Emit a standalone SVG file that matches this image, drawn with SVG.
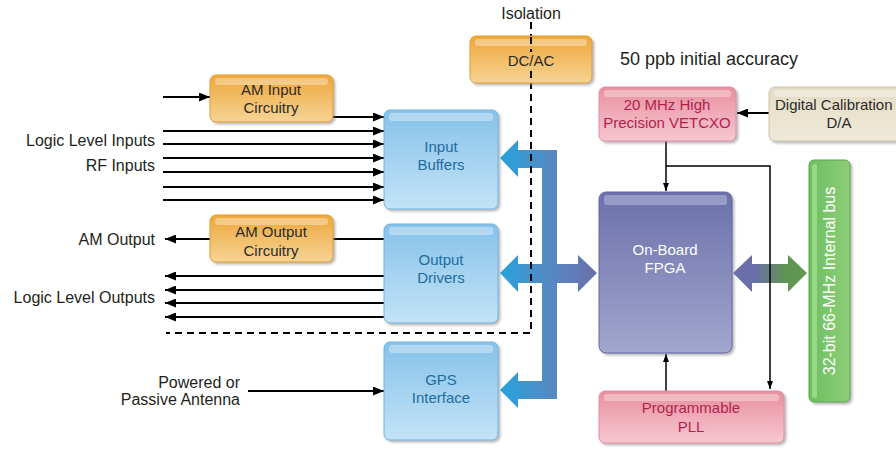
<svg xmlns="http://www.w3.org/2000/svg" width="896" height="449" viewBox="0 0 896 449">
<style>
.lbl{font-family:"Liberation Sans",Arial,sans-serif;font-size:16px;fill:#231f20}
.bt{font-family:"Liberation Sans",Arial,sans-serif;font-size:15px;text-anchor:middle}
.blue{fill:#1d6c9e}.dark{fill:#2b2b2b}.red{fill:#b31e4f}.white{fill:#ffffff}
.ln{stroke:#000;stroke-width:2;fill:none}
.thin{stroke:#000;stroke-width:1.5;fill:none}
.hl{fill:#ffffff;fill-opacity:0.35}
.dash{stroke:#000;stroke-width:2;fill:none;stroke-dasharray:7,5}
</style>
<defs>
<linearGradient id="gBlue" x1="0" y1="0" x2="0" y2="1"><stop offset="0" stop-color="#86c2ea"/><stop offset="1" stop-color="#c3e3f6"/></linearGradient>
<linearGradient id="gOrange" x1="0" y1="0" x2="0" y2="1"><stop offset="0" stop-color="#eea73a"/><stop offset="1" stop-color="#f6d495"/></linearGradient>
<linearGradient id="gPink" x1="0" y1="0" x2="0" y2="1"><stop offset="0" stop-color="#e8909f"/><stop offset="1" stop-color="#f7c7d2"/></linearGradient>
<linearGradient id="gBeige" x1="0" y1="0" x2="0" y2="1"><stop offset="0" stop-color="#e4dcc4"/><stop offset="1" stop-color="#efe9d9"/></linearGradient>
<linearGradient id="gPurple" x1="0" y1="0" x2="0" y2="1"><stop offset="0" stop-color="#6b70ab"/><stop offset="1" stop-color="#a3a6cd"/></linearGradient>
<linearGradient id="gGreen" x1="0" y1="0" x2="1" y2="0"><stop offset="0" stop-color="#6cbf60"/><stop offset="1" stop-color="#8ecd78"/></linearGradient>
<linearGradient id="gBus" gradientUnits="userSpaceOnUse" x1="500" y1="0" x2="557" y2="0"><stop offset="0" stop-color="#27a2dc"/><stop offset="1" stop-color="#5b86c1"/></linearGradient>
<linearGradient id="gMid" gradientUnits="userSpaceOnUse" x1="500" y1="0" x2="597" y2="0"><stop offset="0" stop-color="#27a2dc"/><stop offset="0.5" stop-color="#5589c2"/><stop offset="1" stop-color="#6a6fab"/></linearGradient>
<linearGradient id="gRight" gradientUnits="userSpaceOnUse" x1="733" y1="0" x2="807" y2="0"><stop offset="0" stop-color="#6a6fab"/><stop offset="0.3" stop-color="#6a6fab"/><stop offset="0.7" stop-color="#5f9452"/><stop offset="1" stop-color="#5f9a50"/></linearGradient>
<filter id="sh" x="-10%" y="-10%" width="130%" height="130%"><feDropShadow dx="2" dy="2" stdDeviation="1" flood-color="#777" flood-opacity="0.5"/></filter>
<marker id="ah" markerUnits="userSpaceOnUse" markerWidth="11" markerHeight="9" refX="11" refY="4.5" orient="auto"><path d="M0,0 L11,4.5 L0,9 z" fill="#000"/></marker>
<marker id="as" markerUnits="userSpaceOnUse" markerWidth="8" markerHeight="6" refX="8" refY="3" orient="auto"><path d="M0,0 L8,3 L0,6 z" fill="#000"/></marker>
</defs>
<rect width="896" height="449" fill="#fff"/>

<g id="connectors">
<path d="M500,158 L518,140 L518,150 L557,150 L557,399 L518,399 L518,408 L500,390 L518,372 L518,381 L542,381 L542,168 L518,168 L518,177 Z" fill="url(#gBus)"/>
<path d="M500,273 L518,255 L518,264 L578,264 L578,255 L597,273 L578,292 L578,283 L518,283 L518,292 Z" fill="url(#gMid)"/>
<path d="M733,273 L752,255 L752,264 L788,264 L788,255 L807,273 L788,292 L788,283 L752,283 L752,292 Z" fill="url(#gRight)"/>
<path class="dash" d="M531,22 V333 H166"/>
<line class="ln" x1="163" y1="97" x2="210" y2="97" marker-end="url(#ah)"/>
<line class="ln" x1="333" y1="117" x2="384" y2="117" marker-end="url(#ah)"/>
<line class="ln" x1="163" y1="131" x2="384" y2="131" marker-end="url(#ah)"/>
<line class="ln" x1="163" y1="144" x2="384" y2="144" marker-end="url(#ah)"/>
<line class="ln" x1="163" y1="158" x2="384" y2="158" marker-end="url(#ah)"/>
<line class="ln" x1="163" y1="172" x2="384" y2="172" marker-end="url(#ah)"/>
<line class="ln" x1="163" y1="187" x2="384" y2="187" marker-end="url(#ah)"/>
<line class="ln" x1="163" y1="200" x2="384" y2="200" marker-end="url(#ah)"/>
<line class="ln" x1="384" y1="239" x2="333" y2="239"/>
<line class="ln" x1="210" y1="239" x2="165" y2="239" marker-end="url(#ah)"/>
<line class="ln" x1="384" y1="276" x2="165" y2="276" marker-end="url(#ah)"/>
<line class="ln" x1="384" y1="290" x2="165" y2="290" marker-end="url(#ah)"/>
<line class="ln" x1="384" y1="303" x2="165" y2="303" marker-end="url(#ah)"/>
<line class="ln" x1="384" y1="317" x2="165" y2="317" marker-end="url(#ah)"/>
<line class="ln" x1="248" y1="391" x2="384" y2="391" marker-end="url(#ah)"/>
<line class="ln" x1="769" y1="113" x2="737" y2="113" marker-end="url(#ah)"/>
<line class="thin" x1="666" y1="141" x2="666" y2="191" marker-end="url(#as)"/>
<path class="thin" d="M666,166 H770 V389" marker-end="url(#as)"/>
<line class="thin" x1="666" y1="391" x2="666" y2="354" marker-end="url(#as)"/>
</g>

<g id="isolation">
<text class="lbl" x="531" y="19" text-anchor="middle">Isolation</text>
</g>
<g id="accuracy">
<text class="lbl" x="620" y="65" style="font-size:18px">50 ppb initial accuracy</text>
</g>

<g id="labels-left">
<text class="lbl" x="155" y="146" text-anchor="end">Logic Level Inputs</text>
<text class="lbl" x="155" y="171" text-anchor="end">RF Inputs</text>
<text class="lbl" x="155" y="245" text-anchor="end">AM Output</text>
<text class="lbl" x="155" y="303" text-anchor="end">Logic Level Outputs</text>
<text class="lbl" x="240" y="388" text-anchor="end">Powered or</text>
<text class="lbl" x="240" y="405" text-anchor="end">Passive Antenna</text>
</g>

<g id="am-input">
<rect x="210" y="75" width="123" height="47" rx="6" fill="url(#gOrange)" stroke="#e29c2a" filter="url(#sh)"/>
<rect x="215" y="78" width="113" height="7" rx="3" class="hl"/>
<text class="bt dark" x="271" y="95">AM Input</text>
<text class="bt dark" x="271" y="113">Circuitry</text>
</g>

<g id="am-output">
<rect x="210" y="215" width="123" height="47" rx="6" fill="url(#gOrange)" stroke="#e29c2a" filter="url(#sh)"/>
<rect x="215" y="218" width="113" height="7" rx="3" class="hl"/>
<text class="bt dark" x="271" y="237">AM Output</text>
<text class="bt dark" x="271" y="256">Circuitry</text>
</g>

<g id="input-buffers">
<rect x="384" y="110" width="114" height="99" rx="6" fill="url(#gBlue)" stroke="#72b2de" filter="url(#sh)"/>
<rect x="389" y="113" width="104" height="8" rx="3" class="hl"/>
<text class="bt blue" x="441" y="152">Input</text>
<text class="bt blue" x="441" y="170">Buffers</text>
</g>

<g id="output-drivers">
<rect x="384" y="224" width="114" height="99" rx="6" fill="url(#gBlue)" stroke="#72b2de" filter="url(#sh)"/>
<rect x="389" y="227" width="104" height="8" rx="3" class="hl"/>
<text class="bt blue" x="441" y="265">Output</text>
<text class="bt blue" x="441" y="283">Drivers</text>
</g>

<g id="gps-interface">
<rect x="384" y="342" width="114" height="98" rx="6" fill="url(#gBlue)" stroke="#72b2de" filter="url(#sh)"/>
<rect x="389" y="345" width="104" height="8" rx="3" class="hl"/>
<text class="bt blue" x="441" y="385">GPS</text>
<text class="bt blue" x="441" y="403">Interface</text>
</g>

<g id="dc-ac">
<rect x="470" y="36" width="122" height="47" rx="6" fill="url(#gOrange)" stroke="#e29c2a" filter="url(#sh)"/>
<rect x="475" y="39" width="112" height="7" rx="3" class="hl"/>
<text class="bt dark" x="531" y="66">DC/AC</text>
<path class="dash" d="M531,37 V52 M531,71 V83" style="stroke-dasharray:7,5"/>
</g>

<g id="vetcxo">
<rect x="599" y="87" width="137" height="54" rx="6" fill="url(#gPink)" stroke="#de8ea2" filter="url(#sh)"/>
<rect x="604" y="90" width="127" height="7" rx="3" class="hl"/>
<text class="bt red" x="667" y="110">20 MHz High</text>
<text class="bt red" x="667" y="128">Precision VETCXO</text>
</g>

<g id="digital-cal">
<rect x="769" y="87" width="140" height="54" rx="6" fill="url(#gBeige)" stroke="#cfc6ab" filter="url(#sh)"/>
<rect x="774" y="90" width="130" height="7" rx="3" class="hl"/>
<text class="bt dark" x="775" y="110" style="text-anchor:start">Digital Calibration</text>
<text class="bt dark" x="839" y="128">D/A</text>
</g>

<g id="fpga">
<rect x="599" y="192" width="133" height="161" rx="7" fill="url(#gPurple)" stroke="#6367a5" filter="url(#sh)"/>
<rect x="604" y="195" width="123" height="10" rx="3" fill="#a9acd3" fill-opacity="0.7"/>
<text class="bt white" x="665" y="255">On-Board</text>
<text class="bt white" x="665" y="273">FPGA</text>
</g>

<g id="pll">
<rect x="599" y="391" width="185" height="52" rx="6" fill="url(#gPink)" stroke="#de8ea2" filter="url(#sh)"/>
<rect x="604" y="394" width="175" height="7" rx="3" class="hl"/>
<text class="bt red" x="691" y="413">Programmable</text>
<text class="bt red" x="691" y="432">PLL</text>
</g>

<g id="internal-bus">
<rect x="809" y="160" width="41" height="242" rx="5" fill="url(#gGreen)" stroke="#5ea550" filter="url(#sh)"/>
<rect x="812" y="164" width="5" height="234" rx="2" fill="#a6dc92" fill-opacity="0.8"/>
<text class="bt white" transform="translate(835,281) rotate(-90)" style="font-size:16px">32-bit 66-MHz  Internal bus</text>
</g>
</svg>
